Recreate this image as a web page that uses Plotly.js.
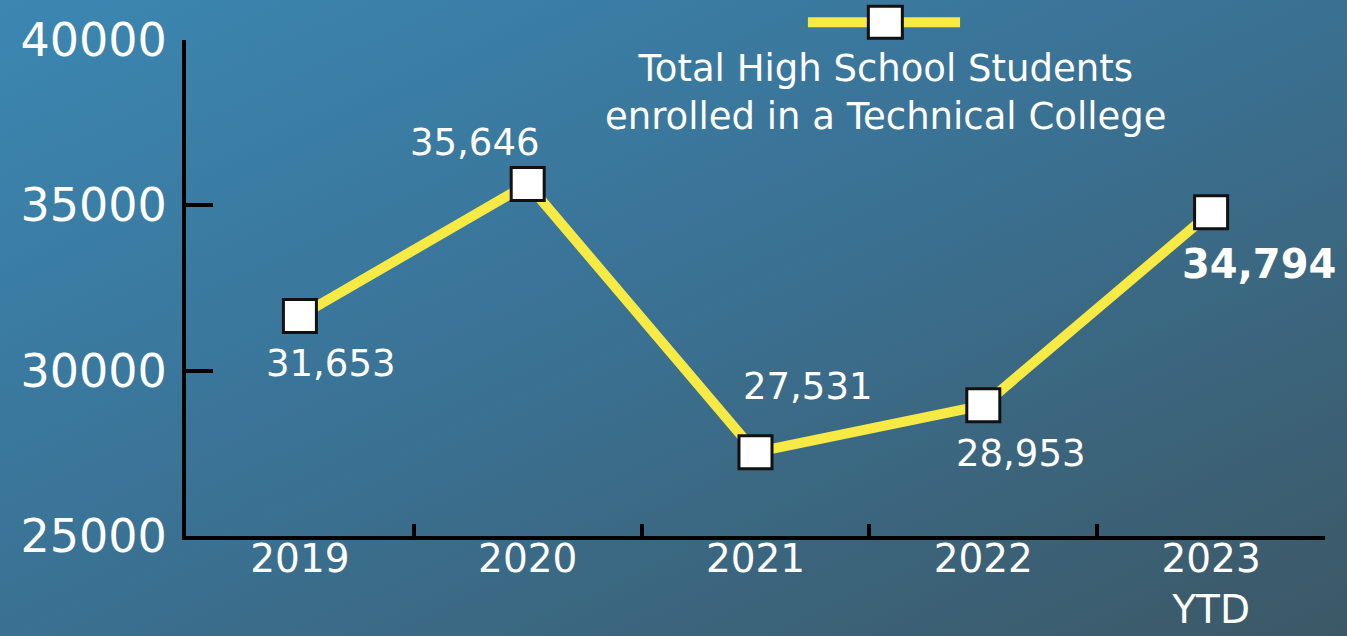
<!DOCTYPE html>
<html>
<head>
<meta charset="utf-8">
<script src="https://cdn.plot.ly/plotly-3.0.1.min.js"></script>
<style>
  html, body { margin: 0; padding: 0; }
  body { width: 1347px; height: 636px; overflow: hidden;
    background: linear-gradient(to bottom right, #3b87b2 0%, #3a7396 45%, #3c5866 100%); }
  #chart { width: 1347px; height: 636px; }
</style>
</head>
<body>
<div id="chart"></div>
<script>
const years = ["2019", "2020", "2021", "2022", "2023<br>YTD"];
const students = [31653, 35646, 27531, 28953, 34794];
const valueLabels = ["31,653", "35,646", "27,531", "28,953", "<b>34,794</b>"];
const yTicks = [25000, 30000, 35000, 40000];
const seriesName = "Total High School Students<br>enrolled in a Technical College";

const labelOffsets = [[31, -47], [-53, 41], [52, 66], [37, -48], [48, -52]];

const trace = {
  x: years,
  y: students,
  type: "scatter",
  mode: "lines+markers",
  name: seriesName,
  line: { color: "#f7ea45", width: 10 },
  marker: { symbol: "square", size: 33, color: "#ffffff", line: { color: "#111111", width: 3 } },
  showlegend: false,
  hoverinfo: "x+y"
};

const annotations = years.map((c, i) => ({
  x: i, y: students[i], xref: "x", yref: "y",
  text: valueLabels[i], showarrow: false,
  xshift: labelOffsets[i][0], yshift: labelOffsets[i][1],
  font: { family: "DejaVu Sans", size: i === 4 ? 40 : 37, color: "#ffffff" }
}));
annotations.push({
  xref: "paper", yref: "paper", x: 0.614, y: 0.895, yanchor: "middle",
  text: seriesName, showarrow: false, align: "center",
  font: { family: "DejaVu Sans", size: 37, color: "#ffffff" }
});

const shapes = [
  { type: "line", xref: "paper", yref: "paper", x0: 0.546, x1: 0.6796, y0: 1.036, y1: 1.036,
    line: { color: "#f7ea45", width: 10 } },
  { type: "rect", xref: "paper", yref: "paper", xsizemode: "pixel", ysizemode: "pixel",
    xanchor: 0.614, yanchor: 1.036, x0: -17, x1: 17, y0: -16, y1: 16,
    fillcolor: "#ffffff", line: { color: "#111111", width: 3 } }
];

const layout = {
  width: 1347, height: 636,
  paper_bgcolor: "rgba(0,0,0,0)", plot_bgcolor: "rgba(0,0,0,0)",
  margin: { l: 186, r: 22, t: 40, b: 100 },
  showlegend: false,
  xaxis: {
    type: "category", range: [-0.5, 4.5],
    showline: true, linecolor: "#000000", linewidth: 4,
    ticks: "inside", tickson: "boundaries", ticklen: 12, tickwidth: 4, tickcolor: "#000000",
    ticklabelstandoff: -15,
    showgrid: false, zeroline: false,
    tickfont: { family: "DejaVu Sans", size: 39, color: "#ffffff" },
    fixedrange: true
  },
  yaxis: {
    range: [25000, 40000], tickvals: yTicks, ticktext: yTicks.map(String),
    showline: true, linecolor: "#000000", linewidth: 4,
    ticks: "inside", ticklen: 27, tickwidth: 4, tickcolor: "#000000",
    ticklabelstandoff: 6,
    showgrid: false, zeroline: false,
    tickfont: { family: "DejaVu Sans", size: 46, color: "#ffffff" },
    fixedrange: true
  },
  annotations: annotations,
  shapes: shapes
};

Plotly.newPlot("chart", [trace], layout, { displayModeBar: false, staticPlot: true });
</script>
</body>
</html>
